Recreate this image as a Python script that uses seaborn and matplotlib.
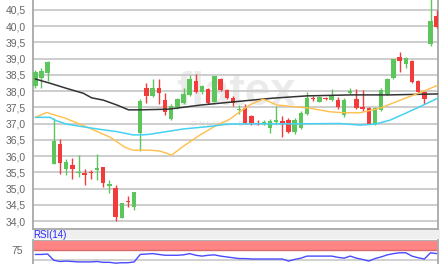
import matplotlib
matplotlib.use("Agg")
import matplotlib.pyplot as plt
import seaborn as sns
import pandas as pd
from matplotlib.patches import Rectangle

# ---------------- data ----------------
opens = [38.15, 38.41, 38.55, 35.75, 36.37, 35.59, 35.71, 35.48, 35.47, 35.50,
         35.57, 35.67, 35.07, 35.03, 34.10, 34.62, 34.43, 36.70, 38.10, 37.84,
         38.08, 37.72, 37.13, 37.52, 37.62, 37.88, 38.30, 37.98, 38.05, 37.67,
         38.36, 38.03, 37.80, 37.42, 37.47, 37.22, 37.02, 36.97, 36.86, 37.04,
         37.07, 37.12, 36.73, 36.85, 37.29, 37.80, 37.67, 37.78, 37.72, 37.72,
         37.26, 37.95, 37.74, 37.50, 37.47, 37.00, 37.42, 37.90, 38.39, 39.05,
         38.82, 38.92, 38.32, 37.98, 39.45, 40.30]
highs = [38.65, 38.72, 38.92, 37.17, 36.52, 35.90, 35.95, 36.04, 35.60, 35.56,
         36.06, 35.67, 35.25, 35.10, 34.56, 34.78, 34.90, 37.75, 38.25, 38.36,
         38.36, 37.93, 37.60, 37.80, 38.10, 38.49, 38.52, 38.20, 38.10, 38.46,
         38.40, 38.05, 37.85, 37.58, 37.60, 37.25, 37.10, 37.10, 37.13, 37.53,
         37.22, 37.18, 37.18, 37.40, 37.97, 37.85, 37.85, 37.83, 38.05, 37.83,
         37.78, 38.10, 38.05, 38.03, 37.50, 37.50, 38.08, 38.40, 39.00, 39.20,
         39.05, 38.95, 38.34, 38.00, 40.95, 40.50]
lows = [38.10, 38.10, 38.30, 35.75, 35.44, 35.42, 35.29, 35.36, 35.10, 35.30,
        35.26, 35.05, 34.87, 34.00, 34.10, 34.43, 34.35, 36.16, 37.64, 37.82,
        37.60, 37.26, 37.10, 37.45, 37.60, 37.85, 37.95, 37.90, 37.60, 37.65,
        38.00, 37.75, 37.55, 37.30, 37.00, 36.95, 36.94, 36.94, 36.70, 37.00,
        36.58, 36.70, 36.68, 36.82, 37.27, 37.70, 37.65, 37.72, 37.70, 37.46,
        37.20, 37.90, 37.44, 37.40, 36.97, 36.95, 37.40, 37.88, 38.37, 38.59,
        38.72, 38.25, 37.95, 37.60, 39.40, 39.95]
closes = [38.57, 38.62, 38.90, 36.45, 35.78, 35.81, 35.59, 35.52, 35.42, 35.47,
          35.62, 35.18, 35.13, 34.12, 34.54, 34.57, 34.88, 37.70, 37.84, 38.10,
          37.93, 37.36, 37.54, 37.75, 37.90, 38.37, 37.98, 38.15, 37.64, 38.46,
          38.03, 37.80, 37.62, 37.46, 37.03, 37.02, 36.97, 37.04, 37.07, 37.10,
          37.02, 36.73, 37.12, 37.33, 37.78, 37.74, 37.82, 37.76, 37.88, 37.50,
          37.72, 38.01, 37.47, 37.45, 37.00, 37.47, 38.03, 38.36, 38.98, 38.93,
          39.03, 38.27, 37.98, 37.74, 40.16, 39.98]

# moving averages (read at candle positions)
ma_long_pos = [0, 2.37, 5.08, 7.78, 9.13, 11.0, 13.2, 15.1, 17.0, 21.5, 26.9,
               32.3, 38.5, 44.0, 51.0, 57.4, 65.2]
ma_long_val = [38.37, 38.24, 38.08, 37.93, 37.79, 37.72, 37.57, 37.42, 37.42,
               37.44, 37.57, 37.67, 37.78, 37.85, 37.88, 37.88, 37.91]
ma_short_pos = [0, 1.85, 3.47, 4.8, 6.7, 8.86, 12.2, 14.5, 15.8, 18.6, 20.2,
                22.1, 23.9, 26.7, 29.4, 31.5, 33.1, 34.8, 36.9, 39.1, 42.9,
                44.5, 47.7, 50.1, 52.6, 55.8, 59.1, 62.3, 65.2]
ma_short_val = [37.19, 37.34, 37.24, 37.17, 37.02, 36.85, 36.57, 36.27, 36.18,
                36.18, 36.15, 36.03, 36.29, 36.65, 36.95, 37.13, 37.36, 37.58,
                37.75, 37.57, 37.50, 37.47, 37.36, 37.33, 37.33, 37.47, 37.72,
                37.95, 38.18]
ma_mid_pos = [0, 2.4, 3.2, 5.1, 7.7, 10.5, 13.2, 15.8, 17.4, 18.6, 23.9, 28.8,
              31.0, 34.8, 42.9, 49.3, 52.6, 55.0, 57.4, 59.9, 62.3, 65.2]
ma_mid_val = [37.19, 37.19, 37.10, 36.98, 36.90, 36.82, 36.75, 36.65, 36.65,
              36.67, 36.83, 36.92, 36.98, 36.99, 36.99, 37.00, 36.95, 36.98,
              37.10, 37.31, 37.52, 37.78]

rsi_values = [64, 64, 65, 50, 47, 48, 47, 46, 46, 46, 47, 45, 45, 43, 44, 44,
              46, 64, 65, 66, 64, 62, 62, 62, 63, 66, 62, 60, 62, 63, 60, 58,
              56, 54, 54, 53, 53, 53, 53, 53, 53, 48, 52, 55, 60, 60, 60, 60,
              60, 57, 55, 60, 55, 52, 48, 54, 58, 63, 66, 68, 68, 60, 56, 53,
              68, 66]

price_ticks = [34.0, 34.5, 35.0, 35.5, 36.0, 36.5, 37.0, 37.5, 38.0, 38.5,
               39.0, 39.5, 40.0, 40.5]
rsi_label = "RSI(14)"
rsi_level = 75

# ---------------- figure ----------------
sns.set_style("white")
plt.rcParams['font.family'] = ['Liberation Sans', 'DejaVu Sans']

W, H = 440, 264
fig = plt.figure(figsize=(W / 100, H / 100), dpi=100)
fig.patch.set_facecolor("white")


def fbox(x0, y0, x1, y1):
    return [x0 / W, 1 - y1 / H, (x1 - x0) / W, (y1 - y0) / H]


# gray strip between panels
fig.add_artist(Rectangle((33 / W, 1 - 239 / H), (W - 33) / W, 10 / H,
                         transform=fig.transFigure, facecolor="#efefef",
                         edgecolor="none", zorder=0))

ax = fig.add_axes(fbox(33, 0, 438, 229))
ax.set_facecolor("white")

df = pd.DataFrame({"i": range(len(opens)), "o": opens, "h": highs,
                   "l": lows, "c": closes})
df["up"] = df["c"] >= df["o"]
green, red = "#5cc65c", "#f23b3b"
cols = [green if u else red for u in df["up"]]

# watermark
ax.text(32.5, 37.95, "flatex", fontsize=33, fontweight="bold", color="#ebebeb",
        ha="center", va="center", zorder=0.5)
ax.text(32.5, 36.98, "O N L I N E    B R O K E R", fontsize=5.5,
        color="#e2e2e2", ha="center", va="center", zorder=0.5)

ax.vlines(df["i"], df["l"], df["h"], colors=cols, linewidth=1.0, zorder=3)
body = (df["c"] - df["o"]).abs().clip(lower=0.025)
bottom = df[["o", "c"]].min(axis=1)
ax.bar(df["i"], body, bottom=bottom, width=0.72, color=cols, linewidth=0,
       zorder=4)

sns.lineplot(x=ma_long_pos, y=ma_long_val, ax=ax, color="#333333",
             linewidth=1.1, zorder=5)
sns.lineplot(x=ma_short_pos, y=ma_short_val, ax=ax, color="#ffbf4a",
             linewidth=1.0, zorder=5)
sns.lineplot(x=ma_mid_pos, y=ma_mid_val, ax=ax, color="#45d2f2",
             linewidth=1.1, zorder=5)

ax.set_xlim(-0.37, 65.21)
ax.set_ylim(33.754, 40.8)
ax.set_yticks(price_ticks)
ax.set_yticklabels([f"{v:.1f}".replace(".", ",") for v in price_ticks])
ax.set_xticks([])
ax.tick_params(axis="y", length=0, pad=5, labelsize=7.5, labelcolor="#666666")
ax.yaxis.grid(True, color="#c9c9c9", linewidth=1.3)
ax.set_axisbelow(True)
ax.set_xlabel("")
ax.set_ylabel("")
for s in ["left", "bottom", "right"]:
    ax.spines[s].set_color("#a8a8a8")
    ax.spines[s].set_linewidth(1.3)
ax.spines["top"].set_visible(False)

# ---------------- RSI panel ----------------
rax = fig.add_axes(fbox(33, 239.5, 438, 281))
rax.set_facecolor("white")
rax.axhspan(rsi_level, 100, color="#ff8585", zorder=1, linewidth=0)
rax.axhline(rsi_level, color="#d86a6a", linewidth=1.0, zorder=2)
rax.axhline(50, color="#c9c9c9", linewidth=1.2, zorder=1)
sns.lineplot(x=list(range(len(rsi_values))), y=rsi_values, ax=rax,
             color="#4a4aff", linewidth=1.0, zorder=3)
rax.set_xlim(-0.37, 65.21)
rax.set_ylim(0, 100)
rax.set_xticks([])
rax.set_yticks([rsi_level])
rax.set_yticklabels([str(rsi_level)])
rax.tick_params(axis="y", length=0, pad=7, labelsize=7.5, labelcolor="#666666")
rax.set_xlabel("")
rax.set_ylabel("")
for s in ["left", "right"]:
    rax.spines[s].set_color("#a8a8a8")
    rax.spines[s].set_linewidth(1.3)
rax.spines["top"].set_color("#b0b0b0")
rax.spines["bottom"].set_visible(False)

fig.text(33 / W, 1 - 238.5 / H, rsi_label, color="#2a2aff", fontsize=7,
         ha="left", va="baseline")

fig.savefig("out.png", dpi=100, facecolor="white")
